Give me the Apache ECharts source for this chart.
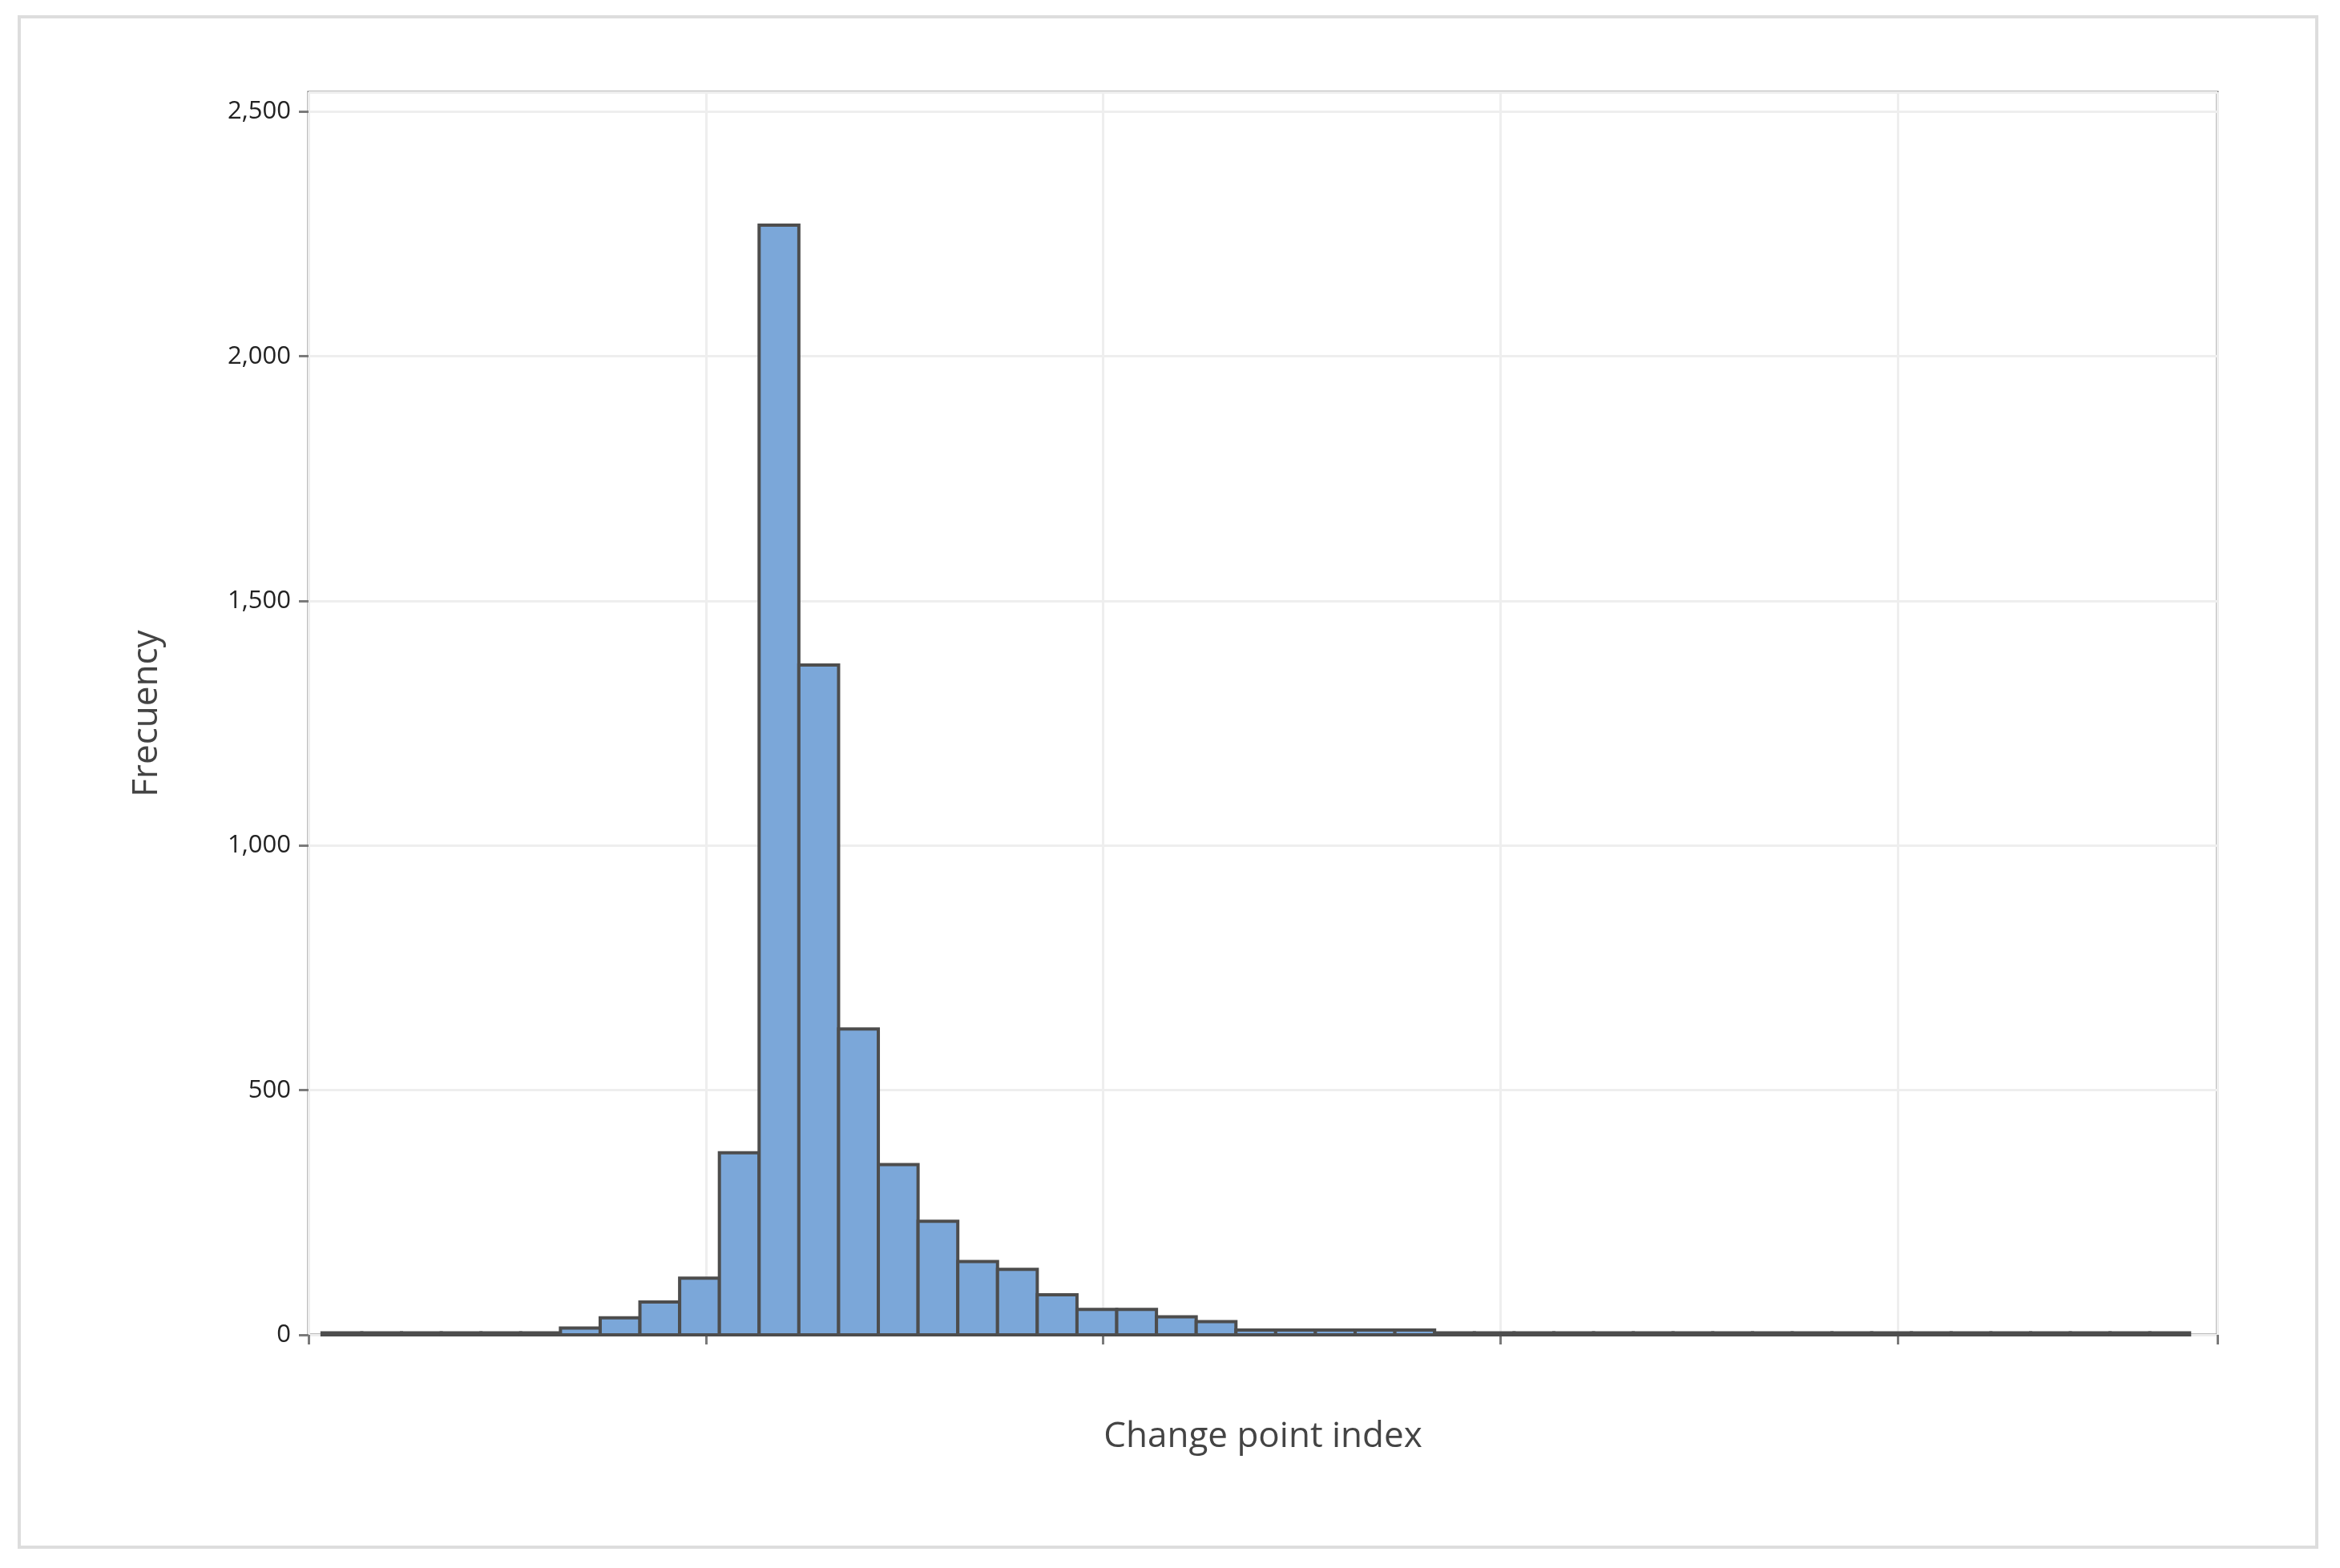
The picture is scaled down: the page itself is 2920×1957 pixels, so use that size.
<!DOCTYPE html>
<html><head><meta charset="utf-8">
<script src="https://cdn.jsdelivr.net/npm/echarts@6/dist/echarts.min.js"></script>
<style>html,body{margin:0;background:#fff}#c{width:2920px;height:1957px}
#f{position:absolute;left:22px;top:19px;width:2871px;height:1914px;border:4px solid #ddd;box-sizing:border-box;pointer-events:none}</style>
</head><body><div id="c"></div><div id="f"></div>
<script>
const binCenters = [945,950,955,960,965,970,975,980,985,990,995,1000,1005,1010,1015,1020,1025,1030,1035,1040,1045,1050,1055,1060,1065,1070,1075,1080,1085,1090,1095,1100,1105,1110,1115,1120,1125,1130,1135,1140,1145,1150,1155,1160,1165,1170,1175];
const frequency  = [4,4,4,4,4,4,14,35,67,116,372,2268,1369,625,348,232,150,134,82,52,52,37,27,10,10,10,10,10,4,4,4,4,4,4,4,4,4,4,4,4,4,4,4,4,4,4,4];
const binWidth = 5;
const xTicks = [950,1000,1050,1100,1150];
const chart = echarts.init(document.getElementById('c'));
const font = '"Open Sans", "Noto Sans", sans-serif';
chart.setOption({
  animation:false,
  grid:{left:385,right:153,top:115,bottom:291,show:true,borderColor:'#7a7a7a',borderWidth:3},
  xAxis:{type:'value',min:940.8,max:1181,interval:50,
    axisLine:{show:false},axisTick:{show:true,length:12,lineStyle:{color:'#7a7a7a',width:3}},
    axisLabel:{fontSize:31,color:'#222',fontFamily:font,margin:22,
      formatter:v=>xTicks.includes(v)?String(v):''},
    splitLine:{show:true,lineStyle:{color:'#eeeeee',width:3}},
    name:'Change point index',nameLocation:'middle',nameGap:105,
    nameTextStyle:{fontSize:44,color:'#444',fontFamily:font}},
  yAxis:{type:'value',min:0,max:2540,interval:500,
    axisLine:{show:false},axisTick:{show:true,length:12,lineStyle:{color:'#7a7a7a',width:3}},
    axisLabel:{fontSize:31,color:'#222',fontFamily:font,margin:22},
    splitLine:{show:true,lineStyle:{color:'#eeeeee',width:3}},
    name:'Frecuency',nameLocation:'middle',nameGap:180,
    nameTextStyle:{fontSize:44,color:'#444',fontFamily:font}},
  series:[{type:'custom',
    data:binCenters.map((x,i)=>[x,frequency[i]]),
    renderItem:(params,api)=>{
      const x=api.value(0),y=api.value(1);
      const p0=api.coord([x-binWidth/2,0]),p1=api.coord([x+binWidth/2,y]);
      return {type:'rect',shape:{x:p0[0],y:p1[1],width:p1[0]-p0[0],height:p0[1]-p1[1]},
        style:{fill:'#7ba7d9',stroke:'#4d4d4d',lineWidth:4}};
    }}]
});
</script></body></html>
